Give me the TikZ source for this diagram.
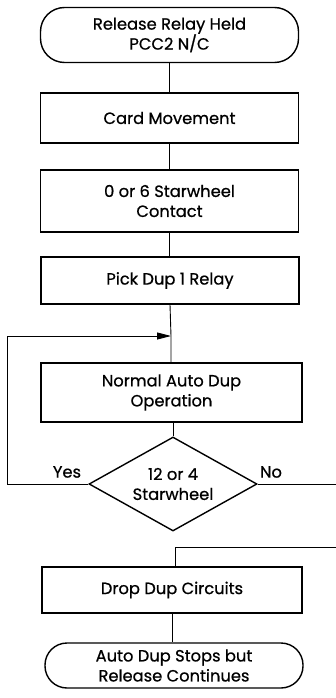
\documentclass[tikz,border=0pt]{standalone}
\usepackage{fontspec}
\newfontfamily\chartfont{Poppins}[FakeBold=0.7]
\usetikzlibrary{shapes.geometric,arrows.meta}
\begin{document}
\begin{tikzpicture}[x=1pt,y=-1pt,
  every node/.style={font=\chartfont\fontsize{16.3}{20}\selectfont, align=center, inner sep=0pt},
  proc/.style={draw, line width=1.4pt, minimum width=258pt},
  term/.style={draw, line width=1.4pt, rounded corners=24pt, minimum width=258pt},
  dec/.style={draw, diamond, line width=1.4pt, minimum width=168pt, minimum height=94pt, aspect=1.8},
  conn/.style={line width=0.9pt}]
\useasboundingbox (0,0) rectangle (336,698);
\node[term, minimum height=55pt] (t1) at (169.5,35) {Release Relay Held\\PCC2 N/C};
\node[proc, minimum height=50pt] (b1) at (169.5,118) {Card Movement};
\node[proc, minimum height=62pt] (b2) at (169.5,201) {0 or 6 Starwheel\\Contact};
\node[proc, minimum height=47pt] (b3) at (170,280.5) {Pick Dup 1 Relay};
\node[proc, minimum width=261pt, minimum height=59pt] (b4) at (171.5,392.5) {Normal Auto Dup\\Operation};
\node[dec] (d) at (173,484) {12 or 4\\Starwheel};
\node[proc, minimum width=260pt, minimum height=46pt] (b5) at (172,590) {Drop Dup Circuits};
\node[term, minimum height=45pt, rounded corners=22pt] (t2) at (174,665.5) {Auto Dup Stops but\\Release Continues};
\node (yes) at (67,472) {Yes};
\node (no) at (271,472) {No};
\coordinate (m) at (171,336);
\coordinate (lft) at (7,484);
\coordinate (nr) at (336,484);
\coordinate (rr) at (336,547);
\coordinate (jn) at (175,547);
\draw[conn] (t1.south) -- (t1.south |- b1.north);
\draw[conn] (b1.south) -- (b1.south |- b2.north);
\draw[conn] (b2.south) -- (b2.south |- b3.north);
\draw[conn] (b3.south) -- (m) -- (m |- b4.north);
\draw[conn] (b4.south -| d.north) -- (d.north);
\draw[conn, -{Triangle[length=14pt,width=7pt]}] (d.west) -- (lft) |- (m);
\draw[conn] (d.east) -- (nr);
\draw[conn] (rr) -- (jn) -- (jn |- b5.north);
\draw[conn] (b5.south) -- (b5.south |- t2.north);
\end{tikzpicture}
\end{document}
